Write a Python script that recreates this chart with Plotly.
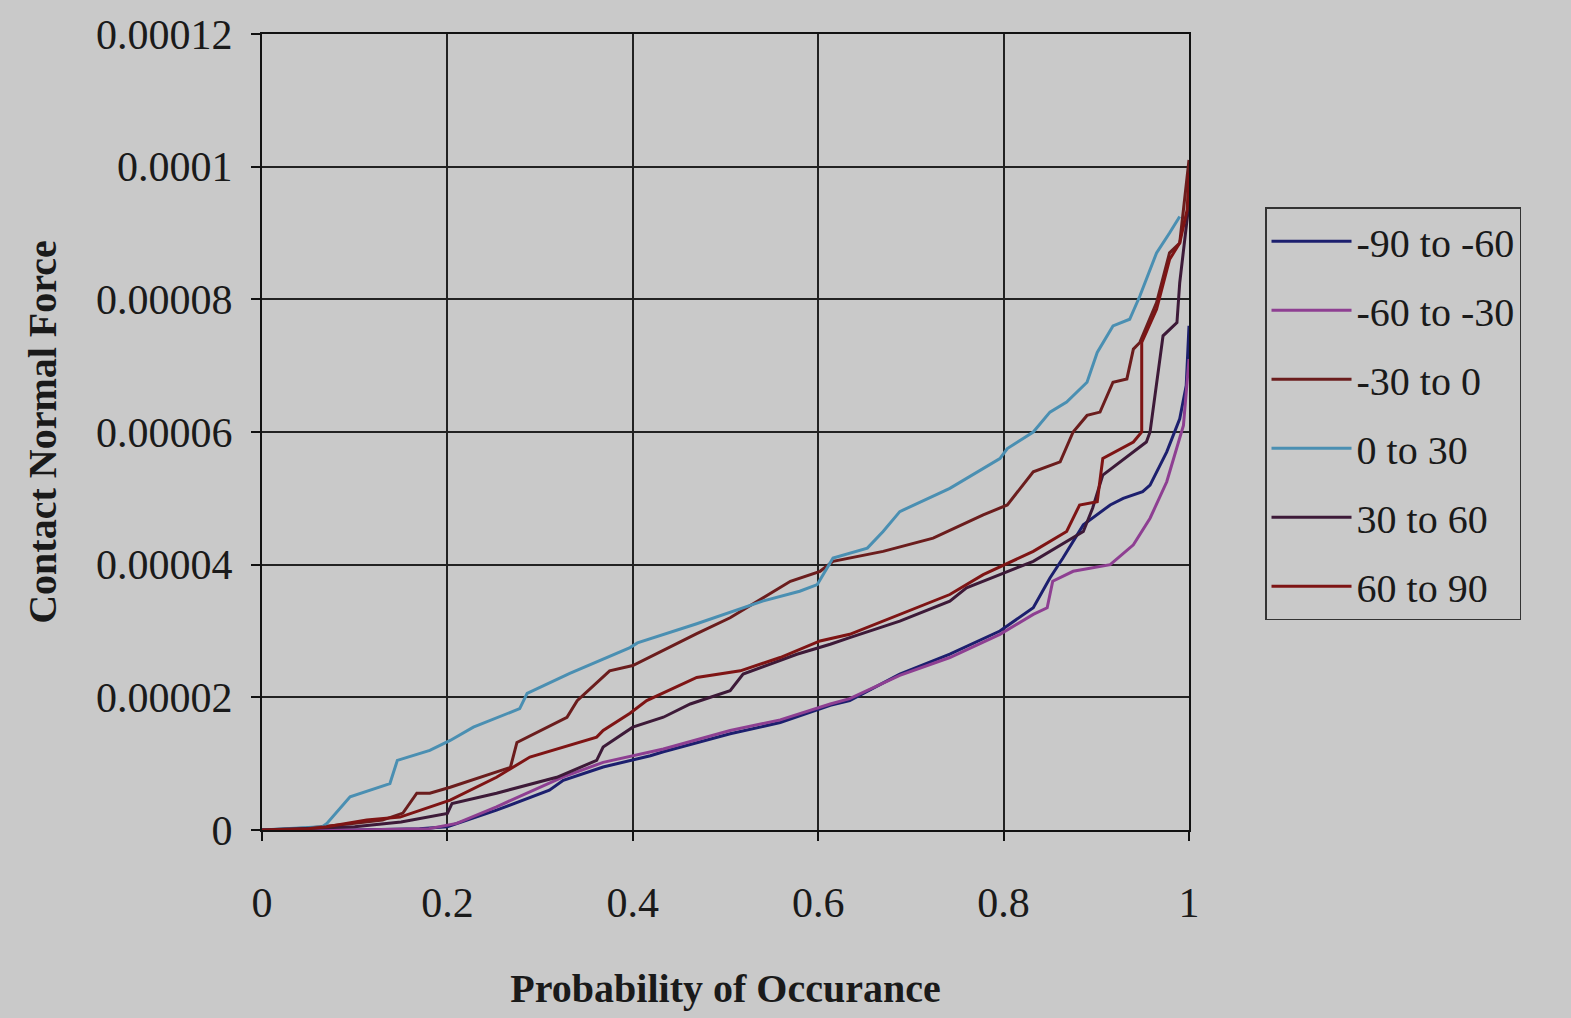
import plotly.graph_objects as go

# ---------------- data (force values in units of 1e-5) ----------------
series_names = ["-90 to -60", "-60 to -30", "-30 to 0", "0 to 30", "30 to 60", "60 to 90"]
series_colors = ["#1c1f6e", "#8e3f92", "#6b1d1d", "#4a8fb2", "#3d1a38", "#7e1414"]

x_m90_m60 = [0, 0.1, 0.17, 0.2, 0.253, 0.31, 0.325, 0.368, 0.419, 0.433, 0.505, 0.559, 0.613, 0.634,
             0.688, 0.742, 0.796, 0.832, 0.850, 0.864, 0.886, 0.915, 0.929, 0.950, 0.958, 0.976, 0.990,
             0.997, 1.0]
y_m90_m60 = [0, 0, 0.02, 0.05, 0.3, 0.6, 0.75, 0.95, 1.12, 1.18, 1.45, 1.62, 1.88, 1.95,
             2.35, 2.65, 3.0, 3.35, 3.8, 4.1, 4.6, 4.9, 5.0, 5.1, 5.2, 5.7, 6.2,
             6.7, 7.6]

x_m60_m30 = [0, 0.1, 0.18, 0.21, 0.253, 0.325, 0.368, 0.433, 0.505, 0.559, 0.613, 0.634, 0.688,
             0.742, 0.796, 0.832, 0.847, 0.853, 0.875, 0.904, 0.915, 0.940, 0.958, 0.976, 0.994, 1.0]
y_m60_m30 = [0, 0, 0.02, 0.1, 0.35, 0.8, 1.02, 1.22, 1.5, 1.66, 1.9, 1.98, 2.33,
             2.6, 2.95, 3.25, 3.35, 3.75, 3.9, 3.97, 4.0, 4.3, 4.7, 5.25, 6.1, 7.1]

x_m30_0 = [0, 0.05, 0.1, 0.13, 0.152, 0.167, 0.181, 0.203, 0.268, 0.275, 0.329, 0.340, 0.375, 0.400,
           0.469, 0.505, 0.570, 0.602, 0.616, 0.670, 0.724, 0.778, 0.804, 0.832, 0.861, 0.875, 0.890,
           0.904, 0.918, 0.933, 0.940, 0.947, 0.965, 0.979, 0.990, 1.0]
y_m30_0 = [0, 0.03, 0.1, 0.15, 0.255, 0.555, 0.555, 0.645, 0.945, 1.32, 1.7, 1.95, 2.4, 2.48,
           2.96, 3.2, 3.75, 3.9, 4.05, 4.2, 4.4, 4.75, 4.9, 5.4, 5.55, 6.0, 6.25,
           6.3, 6.75, 6.8, 7.25, 7.35, 7.95, 8.7, 8.85, 10.1]

x_0_30 = [0, 0.03, 0.065, 0.07, 0.095, 0.138, 0.146, 0.181, 0.203, 0.228, 0.278, 0.286, 0.332, 0.397,
          0.405, 0.469, 0.540, 0.580, 0.599, 0.616, 0.653, 0.670, 0.688, 0.742, 0.796, 0.804, 0.832,
          0.850, 0.868, 0.890, 0.901, 0.918, 0.936, 0.947, 0.965, 0.979, 0.990]
y_0_30 = [0, 0.02, 0.05, 0.1, 0.5, 0.7, 1.05, 1.2, 1.35, 1.55, 1.83, 2.06, 2.36, 2.75,
          2.82, 3.11, 3.45, 3.6, 3.7, 4.1, 4.25, 4.5, 4.8, 5.15, 5.6, 5.75, 6.0,
          6.3, 6.45, 6.75, 7.2, 7.6, 7.7, 8.05, 8.7, 9.0, 9.25]

x_30_60 = [0, 0.1, 0.15, 0.181, 0.2, 0.205, 0.253, 0.318, 0.361, 0.368, 0.400, 0.433, 0.462, 0.505,
           0.519, 0.577, 0.613, 0.634, 0.688, 0.742, 0.760, 0.796, 0.832, 0.886, 0.896, 0.907, 0.954,
           0.958, 0.972, 0.987, 0.990, 1.0]
y_30_60 = [0, 0.05, 0.12, 0.195, 0.25, 0.4, 0.555, 0.795, 1.05, 1.25, 1.55, 1.7, 1.9, 2.1,
           2.35, 2.65, 2.8, 2.9, 3.15, 3.45, 3.65, 3.85, 4.05, 4.5, 4.85, 5.35, 5.85,
           6.0, 7.45, 7.65, 8.25, 9.45]

x_60_90 = [0, 0.05, 0.07, 0.113, 0.149, 0.181, 0.203, 0.253, 0.289, 0.361, 0.368, 0.397, 0.415, 0.469,
           0.516, 0.559, 0.602, 0.634, 0.688, 0.742, 0.778, 0.832, 0.868, 0.882, 0.901, 0.907, 0.940,
           0.949, 0.949, 0.965, 0.979, 0.990, 0.998, 1.0]
y_60_90 = [0, 0.02, 0.05, 0.15, 0.195, 0.345, 0.45, 0.795, 1.1, 1.4, 1.5, 1.76, 1.95, 2.3,
           2.4, 2.6, 2.85, 2.95, 3.25, 3.55, 3.85, 4.2, 4.5, 4.9, 4.95, 5.6, 5.85,
           6.0, 7.35, 7.85, 8.6, 8.85, 9.35, 9.9]

y_scale = 1e-5

x_tick_vals = [0, 0.2, 0.4, 0.6, 0.8, 1]
x_tick_text = ["0", "0.2", "0.4", "0.6", "0.8", "1"]
y_tick_vals = [0, 0.00002, 0.00004, 0.00006, 0.00008, 0.0001, 0.00012]
y_tick_text = ["0", "0.00002", "0.00004", "0.00006", "0.00008", "0.0001", "0.00012"]

x_title = "Probability of Occurance"
y_title = "Contact Normal Force"

# ---------------- figure ----------------
xs = [x_m90_m60, x_m60_m30, x_m30_0, x_0_30, x_30_60, x_60_90]
ys = [y_m90_m60, y_m60_m30, y_m30_0, y_0_30, y_30_60, y_60_90]

FONT = "Liberation Serif, Times New Roman, serif"
BG = "#c9c9c9"
INK = "#1a1a1a"

fig = go.Figure()
for i, name in enumerate(series_names):
    fig.add_trace(go.Scatter(
        x=xs[i], y=[v * y_scale for v in ys[i]], mode="lines", name=name,
        legendgroup=name,
        line=dict(color=series_colors[i], width=3),
    ))

axis_common = dict(
    showline=True, linecolor="#111111", linewidth=2.2, mirror=True,
    showgrid=True, gridcolor="#222222", gridwidth=1.6,
    zeroline=False, ticks="outside", ticklen=9, tickcolor="#111111", tickwidth=1.5,
    tickfont=dict(family=FONT, size=42, color=INK),
)

fig.update_xaxes(range=[0, 1], tickmode="array", tickvals=x_tick_vals, ticktext=x_tick_text,
                 ticklabelstandoff=25,
                 title=dict(text=x_title, standoff=49,
                            font=dict(family=FONT, size=40, color=INK, weight="bold")),
                 **axis_common)
fig.update_yaxes(range=[0, 0.00012], tickmode="array", tickvals=y_tick_vals, ticktext=y_tick_text,
                 ticklabelstandoff=10,
                 title=dict(text=y_title, standoff=27,
                            font=dict(family=FONT, size=40, color=INK, weight="bold")),
                 **axis_common)

fig.update_layout(
    width=1571, height=1018,
    margin=dict(l=262, r=382, t=30, b=188),
    paper_bgcolor=BG, plot_bgcolor=BG,
    font=dict(family=FONT, color=INK),
    showlegend=True,
    legend=dict(x=1.082, y=0.7825, xanchor="left", yanchor="top",
                bgcolor="rgba(0,0,0,0)", bordercolor="#333333", borderwidth=1.5,
                font=dict(family=FONT, size=40, color=INK),
                tracegroupgap=14, itemwidth=80),
)

fig.write_html("out.html", config={"displayModeBar": False},
               post_script="document.body.style.margin='0px';")
